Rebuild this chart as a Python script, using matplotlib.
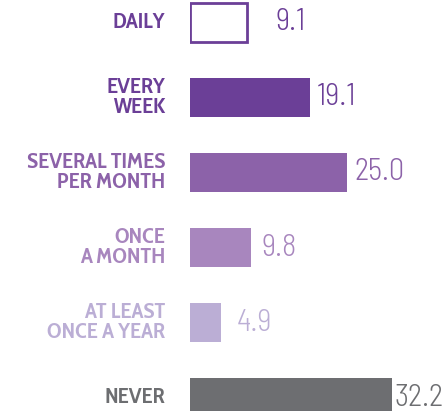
import matplotlib
matplotlib.use("Agg")
import matplotlib.pyplot as plt
from matplotlib.transforms import offset_copy

# Share of respondents by frequency (%)
categories = ["DAILY", "EVERY\nWEEK", "SEVERAL TIMES\nPER MONTH", "ONCE\nA MONTH",
              "AT LEAST\nONCE A YEAR", "NEVER"]
values = [9.1, 19.1, 25.0, 9.8, 4.9, 32.2]
value_labels = ["9.1", "19.1", "25.0", "9.8", "4.9", "32.2"]
colors = ["#6b3f97", "#6b3f97", "#8c62a9", "#a886be", "#bbaed5", "#6d6e71"]

fig = plt.figure(figsize=(4.45, 4.11), dpi=100)
ax = fig.add_axes([190 / 445, 0, 255 / 445, 1])

for i, (v, c) in enumerate(zip(values, colors)):
    if i == 0:
        # first bar is drawn as an outline only
        ax.barh(i, v, height=0.507, left=0, facecolor="white", edgecolor=c, linewidth=2)
    else:
        ax.barh(i, v, height=0.507, left=0, color=c, linewidth=0)

ax.set_xlim(0, 255 / 6.27)
ax.set_ylim((411 - 22.5) / 75, -22.5 / 75)
ax.axis("off")

# value labels to the right of each bar
pads = [28, 7, 8, 10, 16, 3]
for i, (v, lab, c) in enumerate(zip(values, value_labels, colors)):
    tr = offset_copy(ax.transData, fig=fig, x=pads[i], y=0, units="dots")
    ax.text(v, i, lab, transform=tr, ha="left", va="center", color=c,
            fontsize=22, family="Barlow Semi Condensed", fontweight=300)

# category labels on the left
for i, (cat, c) in enumerate(zip(categories, colors)):
    tr = offset_copy(ax.get_yaxis_transform(), fig=fig, x=-25, y=0, units="dots")
    ax.text(0, i, cat, transform=tr, ha="right", va="center", color=c,
            fontsize=16, fontweight="bold", family="Cabin Condensed", linespacing=0.95)

fig.savefig("out.png", dpi=100)
